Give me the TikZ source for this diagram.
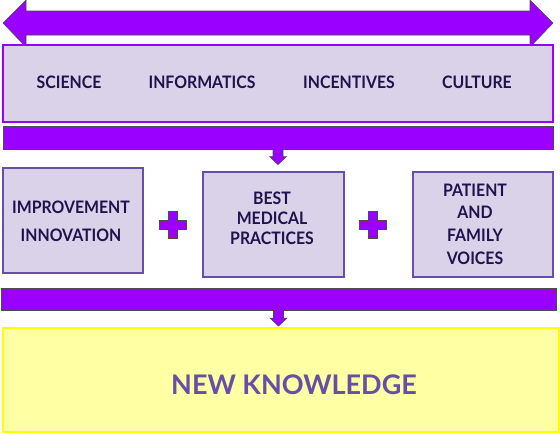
\documentclass[tikz,border=0pt]{standalone}
\usepackage{fontspec}
\setmainfont{Lato}
\newfontfamily\tallfont{Lato}[FakeStretch=0.92]
\usepackage{tikz}
\usetikzlibrary{calc}
\definecolor{BarPurple}{HTML}{9900FF}
\definecolor{BoxLilac}{HTML}{D9D2E9}
\definecolor{EdgePurple}{HTML}{674EA7}
\definecolor{InkNavy}{HTML}{20124D}
\definecolor{PaleYellow}{HTML}{FFFFA3}
\definecolor{HiYellow}{HTML}{FFFF00}

\begin{document}
\begin{tikzpicture}[
    x=1pt, y=-1pt,
    outline/.style={draw=black!70, fill=BarPurple, line width=0.6pt, line join=miter},
    band/.style={draw=BarPurple, fill=BoxLilac, line width=1.5pt, inner sep=0pt, minimum width=550pt, minimum height=77pt},
    bar/.style={outline, inner sep=0pt, minimum height=22.5pt},
    box/.style={draw=EdgePurple, fill=BoxLilac, line width=2pt, inner sep=0pt, minimum width=140pt, minimum height=105pt},
    word/.style={text=InkNavy, font=\tallfont\fontsize{17.2}{#1}\selectfont\bfseries, align=center, inner sep=0pt},
    word/.default=20,
    goal/.style={draw=HiYellow, fill=PaleYellow, line width=2.5pt, inner sep=0pt, minimum width=556pt, minimum height=104pt},
  ]
  \useasboundingbox (0,0) rectangle (560,434);
  % --- double arrow over the top band ---
  \draw[outline] (3,23) -- (26,0) -- (26,11) -- (530,11) -- (530,0) -- (553,23)
    -- (530,47) -- (530,35) -- (26,35) -- (26,47) -- cycle;
  % --- top band ---
  \node[band] (frame) at (278,83.5) {};
  \node[word] (sci) at (69,82) {SCIENCE};
  \node[word] (inf) at (202,82) {INFORMATICS};
  \node[word] (inc) at (349,82) {INCENTIVES};
  \node[word] (cul) at (477,82) {CULTURE};
  % --- bars ---
  \node[bar, minimum width=550pt] (bar1) at (278,138) {};
  \node[bar, minimum width=555pt] (bar2) at (278.5,299.5) {};
  % --- three boxes ---
  \node[box] (imp) at (73,220.5) {};
  \node[box, minimum width=141pt] (best) at (273.5,224.5) {};
  \node[box] (voice) at (483,224.5) {};
  \node[word=28] (impt) at (71,221) {IMPROVEMENT\\INNOVATION};
  \node[word=20] (bestt) at (272,218) {BEST\\MEDICAL\\PRACTICES};
  \node[word=22.7] (voicet) at (475,224) {PATIENT\\AND\\FAMILY\\VOICES};
  % plus signs
  \coordinate (plusA) at (173,225);
  \coordinate (plusB) at (373,225);
  \foreach \p in {plusA,plusB}
    \draw[outline] ($(\p)+(-4.5,-13.5)$) -- ++(9,0) -- ++(0,9) -- ++(9,0) -- ++(0,9)
      -- ++(-9,0) -- ++(0,9) -- ++(-9,0) -- ++(0,-9) -- ++(-9,0) -- ++(0,-9)
      -- ++(9,0) -- cycle;
  % --- result ---
  \node[goal] (know) at (281,380) {};
  \node[text=EdgePurple, font=\fontsize{27}{30}\selectfont\bfseries, inner sep=0pt] (knowt) at (294,385) {NEW KNOWLEDGE};
  % down arrows out of the bars
  \foreach \b in {bar1,bar2}
    \draw[outline] ($(\b.south)+(-5,-1)$) -- ++(0,8) -- ++(-3.5,0)
      -- ($(\b.south)+(0,15)$) -- ++(8.5,-8) -- ++(-3.5,0) -- ++(0,-8);
\end{tikzpicture}
\end{document}
